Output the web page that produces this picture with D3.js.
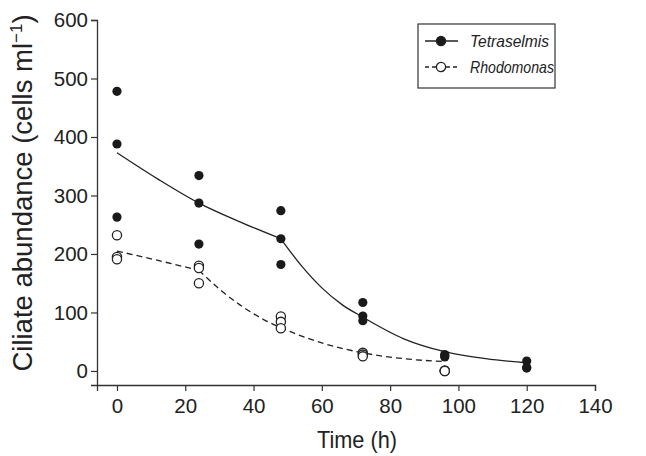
<!DOCTYPE html>
<html>
<head>
<meta charset="utf-8">
<script src="https://cdn.jsdelivr.net/npm/d3@7"></script>
<style>
  body { margin: 0; background: #fff; }
  svg text { font-family: "Liberation Sans", Arial, sans-serif; fill: #222; }
</style>
</head>
<body>
<div id="container"></div>
<script>
/* CONSTANTS AND GLOBALS */
const width = 646,
  height = 456,
  margin = { top: 20, bottom: 71, left: 97, right: 51 },
  radius = 4.6;

// replicate measurements
const tetraTime = [0, 0, 0, 24, 24, 24, 48, 48, 48, 72, 72, 72, 96, 96, 96, 120, 120, 120];
const tetraCells = [478, 388, 263, 334, 287, 217, 274, 226, 182, 117, 94, 86, 28, 24, 26, 17, 5, 6];
const rhodoTime = [0, 0, 0, 24, 24, 24, 48, 48, 48, 72, 72, 72, 96, 96, 96];
const rhodoCells = [232, 195, 191, 180, 176, 150, 93, 84, 73, 31, 28, 25, 0, 1, 0];

// fitted curves (two pieces each)
const tetraFitTimeA = [0, 12, 24, 36, 48];
const tetraFitCellsA = [373, 328, 287, 255, 226];
const tetraFitTimeB = [48, 54, 60, 66, 72, 84, 96, 108, 120];
const tetraFitCellsB = [226, 180, 142, 113, 92, 55, 33, 21, 14];
const rhodoFitTimeA = [0, 12, 24];
const rhodoFitCellsA = [205, 189, 172];
const rhodoFitTimeB = [24, 30, 36, 42, 48, 60, 72, 84, 96];
const rhodoFitCellsB = [172, 140, 113, 91, 74, 48, 31, 21, 16];

const xTicks = [0, 20, 40, 60, 80, 100, 120, 140];
const yTicks = [0, 100, 200, 300, 400, 500, 600];

const svg = d3.select("#container").append("svg")
  .attr("width", width)
  .attr("height", height);

const xScale = d3.scaleLinear()
  .domain([-5.85, 140])
  .range([margin.left, width - margin.right]);

const yScale = d3.scaleLinear()
  .domain([-24, 600])
  .range([height - margin.bottom, margin.top]);

// AXES
const xAxis = svg.append("g")
  .attr("transform", `translate(0, ${height - margin.bottom})`)
  .call(d3.axisBottom(xScale).tickValues(xTicks).tickSizeOuter(0).tickSize(6).tickPadding(7));

const yAxis = svg.append("g")
  .attr("transform", `translate(${margin.left}, 0)`)
  .call(d3.axisLeft(yScale).tickValues(yTicks).tickSizeOuter(0).tickSize(6).tickPadding(3));

[xAxis, yAxis].forEach(a => {
  a.select(".domain").attr("stroke", "#333").attr("stroke-width", 1.3);
  a.selectAll(".tick line").attr("stroke", "#333").attr("stroke-width", 1.2);
  a.selectAll(".tick text").attr("font-size", 20.5).attr("fill", "#222");
});

// axis titles
svg.append("text")
  .attr("x", xScale(70) + 1)
  .attr("y", 448)
  .attr("text-anchor", "middle")
  .attr("font-size", 24)
  .attr("textLength", 80)
  .attr("lengthAdjust", "spacingAndGlyphs")
  .text("Time (h)");

const yTitle = svg.append("text")
  .attr("transform", `translate(32, 193) rotate(-90)`)
  .attr("text-anchor", "middle")
  .attr("font-size", 27.5);
yTitle.append("tspan").text("Ciliate abundance (cells ml");
yTitle.append("tspan").attr("font-size", 17).attr("dy", -10).text("\u22121");
yTitle.append("tspan").attr("dy", 10).text(")");

// CURVES
const line = d3.line()
  .x(d => xScale(d[0]))
  .y(d => yScale(d[1]))
  .curve(d3.curveMonotoneX);

const fits = [
  { t: tetraFitTimeA, v: tetraFitCellsA, dash: null },
  { t: tetraFitTimeB, v: tetraFitCellsB, dash: null },
  { t: rhodoFitTimeA, v: rhodoFitCellsA, dash: "6,4" },
  { t: rhodoFitTimeB, v: rhodoFitCellsB, dash: "6,4" }
];

svg.append("g")
  .selectAll("path")
  .data(fits)
  .join("path")
  .attr("d", d => line(d3.zip(d.t, d.v)))
  .attr("fill", "none")
  .attr("stroke", "#222")
  .attr("stroke-width", 1.3)
  .attr("stroke-dasharray", d => d.dash);

// POINTS
svg.append("g")
  .selectAll("circle")
  .data(d3.zip(rhodoTime, rhodoCells))
  .join("circle")
  .attr("cx", d => xScale(d[0]))
  .attr("cy", d => yScale(d[1]))
  .attr("r", radius)
  .attr("fill", "white")
  .attr("stroke", "#222")
  .attr("stroke-width", 1.3);

svg.append("g")
  .selectAll("circle")
  .data(d3.zip(tetraTime, tetraCells))
  .join("circle")
  .attr("cx", d => xScale(d[0]))
  .attr("cy", d => yScale(d[1]))
  .attr("r", radius)
  .attr("fill", "#1a1a1a");

// LEGEND
const legend = svg.append("g").attr("transform", "translate(418, 24)");
legend.append("rect")
  .attr("width", 137)
  .attr("height", 64)
  .attr("fill", "white")
  .attr("stroke", "#333")
  .attr("stroke-width", 1.2);

const legendItems = [
  { name: "Tetraselmis", dash: null, fill: "#1a1a1a", len: 79 },
  { name: "Rhodomonas", dash: "4,3", fill: "white", len: 84 }
];

legendItems.forEach((d, i) => {
  const row = legend.append("g").attr("transform", `translate(0, ${17 + i * 26})`);
  row.append("line")
    .attr("x1", 7).attr("x2", 40)
    .attr("stroke", "#222").attr("stroke-width", 1.3)
    .attr("stroke-dasharray", d.dash);
  row.append("circle")
    .attr("cx", 23).attr("r", radius)
    .attr("fill", d.fill)
    .attr("stroke", "#222").attr("stroke-width", 1.3);
  row.append("text")
    .attr("x", 52)
    .attr("dy", "0.36em")
    .attr("font-size", 16.5)
    .attr("font-style", "italic")
    .attr("textLength", d.len)
    .attr("lengthAdjust", "spacingAndGlyphs")
    .text(d.name);
});
</script>
</body>
</html>
